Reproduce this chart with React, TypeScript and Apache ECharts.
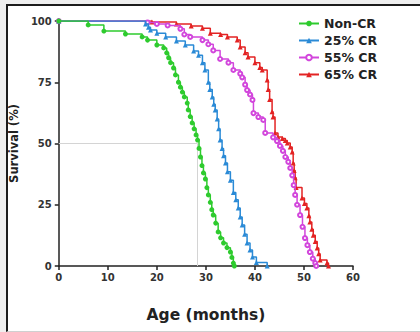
import React, { useEffect, useRef } from "react";
import * as echarts from "echarts";

const seriesNames = ["Non-CR", "25% CR", "55% CR", "65% CR"];
const seriesColors = ["#2ecb2e", "#2a8ad6", "#d246dc", "#e32323"];
const seriesSymbols = ["circle", "triangle", "emptyCircle", "triangle"];

const nonCR: number[][] = [
  [0, 100], [6, 98.4], [9.2, 95.9], [13.6, 94.7], [17, 93.5], [18.1, 92.2], [20, 90.2],
  [21.4, 89], [22, 87], [22.4, 85], [22.8, 83], [23.4, 80.8], [23.8, 78], [24.4, 75],
  [24.8, 73], [25.2, 71], [25.6, 69], [26.2, 66.5], [26.4, 63.7], [26.8, 61], [27.2, 58.4],
  [27.6, 56], [28, 53.5], [28.3, 51.4], [28.6, 48], [28.9, 44.5], [29.2, 41], [29.5, 38],
  [29.9, 35.5], [30.2, 32], [30.5, 29], [30.9, 26], [31.2, 23], [31.5, 20.8], [32, 17.5],
  [32.5, 13.9], [33, 11.5], [33.6, 9.4], [34.3, 7.5], [35, 5.7], [35.3, 3.5], [35.6, 1.2],
  [35.8, 0],
];

const cr25: number[][] = [
  [0, 100], [17.7, 98.8], [18.3, 97.5], [18.7, 96.3], [20, 95], [21.8, 93.5], [24, 91.8],
  [25.8, 90.2], [27.5, 87.8], [28.5, 86], [29.3, 83], [29.8, 80], [30.5, 75], [30.8, 72],
  [31.3, 69], [31.6, 66], [31.9, 63.7], [32.3, 60], [32.6, 56], [32.9, 51.4], [33.3, 48],
  [33.6, 45], [34, 42], [34.4, 38.5], [35, 35], [35.6, 30], [36.1, 27], [36.6, 23.7],
  [37, 20], [37.4, 16.7], [37.9, 13], [38.4, 9.4], [39, 6.5], [39.5, 3.7], [40.3, 1.4],
  [42.5, 0],
];

const cr55: number[][] = [
  [0, 100], [18.1, 99.4], [20, 98.8], [22.2, 98.2], [24.8, 96.8], [25.6, 94.5], [26.8, 93.5],
  [29.3, 92.2], [30.5, 90.5], [31.5, 88], [32.9, 84.5], [34.6, 83], [35.6, 80], [37, 78.5],
  [37.4, 77], [38, 74], [38.4, 71.8], [39, 70], [39.5, 67.8], [39.7, 62.4], [40.7, 60.8],
  [41.7, 59.6], [42.1, 54.3], [43.7, 52.5], [44.5, 51], [45.1, 49], [45.7, 47], [46.2, 44.5],
  [46.8, 42.5], [47.2, 40], [47.6, 37], [47.9, 33], [48.2, 29], [48.6, 25], [49.2, 20.8],
  [49.7, 16], [50.2, 11.4], [50.7, 8.5], [51.2, 5.7], [51.8, 3], [52.3, 1.2], [52.5, 0],
];

const cr65: number[][] = [
  [0, 100], [19, 99.6], [24, 98.8], [27, 98], [29.3, 97], [30.9, 95], [33, 94.5],
  [34.4, 93.5], [36.4, 92.2], [37, 89.4], [38, 87], [38.6, 85.3], [40, 83], [41, 81],
  [41.5, 80], [42.5, 75.9], [42.7, 72], [43, 68], [43.5, 63], [43.7, 60.8], [44.1, 54.3],
  [44.7, 52.7], [45.6, 52], [46.2, 51.2], [46.6, 50.2], [47.2, 48.6], [47.6, 46.5],
  [47.8, 42], [48, 39], [48.2, 36], [48.4, 32], [49.6, 27.8], [50.1, 25.5], [50.6, 23.7],
  [51, 20.5], [51.2, 18], [51.6, 15], [51.9, 12.6], [52.3, 10], [52.7, 7.3], [53, 5],
  [53.3, 2.4], [54.7, 1.2], [55, 0],
];

const allData = [nonCR, cr25, cr55, cr65];
const medianNonCR = 28.3;

export default function App() {
  const ref = useRef<HTMLDivElement>(null);
  useEffect(() => {
    if (!ref.current) return;
    const chart = echarts.init(ref.current, undefined, { renderer: "svg" });
    const font = "'DejaVu Sans', Verdana, sans-serif";
    const series: any[] = seriesNames.map((name, i) => ({
      name,
      type: "line",
      step: "end",
      data: allData[i],
      symbol: seriesSymbols[i],
      symbolSize: i === 2 ? 4 : 5,
      showAllSymbol: true,
      lineStyle: { color: seriesColors[i], width: 1.5 },
      itemStyle: { color: seriesColors[i], borderColor: seriesColors[i], borderWidth: i === 2 ? 1.3 : 0 },
      z: 10 - i,
      markLine: i === 0 ? {
        silent: true,
        symbol: "none",
        label: { show: false },
        lineStyle: { color: "#d4d4d4", width: 1, type: "solid" },
        data: [
          [{ coord: [0, 50] }, { coord: [medianNonCR, 50] }],
          [{ coord: [medianNonCR, 50] }, { coord: [medianNonCR, 0] }],
        ],
      } : undefined,
    }));
    chart.setOption({
      animation: false,
      backgroundColor: "transparent",
      grid: { left: 58, right: 67, top: 21, bottom: 66 },
      legend: {
        orient: "vertical",
        left: 293,
        top: 12,
        itemGap: 4,
        itemWidth: 20,
        itemHeight: 7,
        textStyle: { fontFamily: font, fontWeight: "bold", fontSize: 12.5, color: "#222" },
        data: seriesNames,
      },
      xAxis: {
        type: "value",
        min: 0,
        max: 60,
        interval: 10,
        name: "Age (months)",
        nameLocation: "middle",
        nameGap: 41,
        nameTextStyle: { fontFamily: font, fontWeight: "bold", fontSize: 15.5, color: "#222" },
        axisLine: { lineStyle: { color: "#222", width: 1.5 } },
        axisTick: { length: 4, lineStyle: { color: "#222", width: 1.5 } },
        axisLabel: { fontFamily: font, fontWeight: "bold", fontSize: 10, color: "#333", margin: 6 },
        splitLine: { show: false },
      },
      yAxis: {
        type: "value",
        min: 0,
        max: 100,
        interval: 25,
        name: "Survival (%)",
        nameLocation: "middle",
        nameGap: 38,
        nameRotate: 90,
        nameTextStyle: { fontFamily: font, fontWeight: "bold", fontSize: 11.5, color: "#222" },
        axisLine: { show: true, lineStyle: { color: "#222", width: 1.5 } },
        axisTick: { show: true, length: 4, lineStyle: { color: "#222", width: 1.5 } },
        axisLabel: { fontFamily: font, fontWeight: "bold", fontSize: 10, color: "#333", margin: 7 },
        splitLine: { show: false },
      },
      series,
    });
    return () => chart.dispose();
  }, []);
  return (
    <div style={{ position: "fixed", left: 0, top: 0, width: 420, height: 332, background: "#efefef", overflow: "hidden" }}>
      <div style={{ position: "absolute", left: 6, top: 4, width: 420, height: 325, background: "#fff", borderTop: "2px solid #1c1c1c", borderLeft: "2px solid #1c1c1c", borderBottom: "1px solid #d0d0d0" }} />
      <div ref={ref} style={{ position: "absolute", left: 0, top: 0, width: 420, height: 332 }} />
    </div>
  );
}
